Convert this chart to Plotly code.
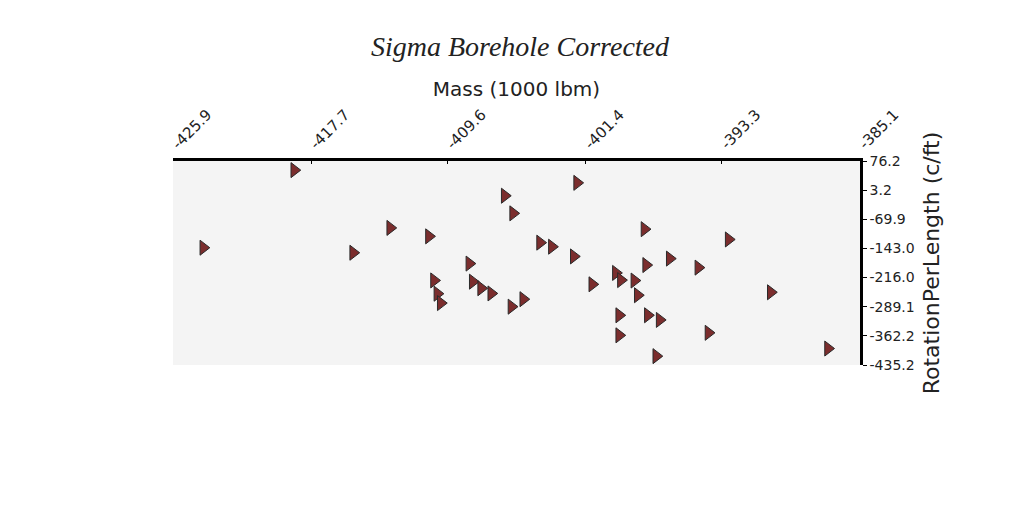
import plotly.graph_objects as go

# valores
mass = [-418.7, -424.1, -415.2, -413.0, -410.7, -410.4, -410.2, -410.0,
        -406.2, -401.9, -405.7, -404.1, -403.4, -402.1, -408.3, -408.1,
        -407.6, -407.0, -405.8, -405.1, -401.0, -399.6, -399.3, -398.5,
        -397.9, -397.8, -398.3, -399.4, -397.7, -397.0, -399.4, -396.4,
        -392.9, -394.7, -390.4, -394.1, -397.2, -387.0]
rotation = [53.3, -141.2, -153.8, -91.5, -112.7, -223.2, -256.5, -280.0,
            -10.9, 21.4, -55.0, -128.5, -138.7, -163.0, -181.0, -226.3,
            -242.8, -255.8, -289.0, -270.2, -232.9, -204.4, -222.4, -223.5,
            -94.7, -184.7, -260.3, -310.6, -310.5, -322.2, -360.8, -168.5,
            -120.5, -191.1, -252.9, -354.5, -413.0, -393.9]

x_ticks = [-425.9, -417.7, -409.6, -401.4, -393.3, -385.1]
y_ticks = [76.2, 3.2, -69.9, -143.0, -216.0, -289.1, -362.2, -435.2]

fig = go.Figure()

fig.add_trace(go.Scatter(
    x=mass,
    y=rotation,
    mode='markers',
    marker=dict(symbol='triangle-right', size=13, color='#7b2d2d',
                line=dict(color='#2a2a2a', width=1)),
    showlegend=False,
))

fig.update_layout(
    width=1024,
    height=512,
    margin=dict(l=165, r=172, t=153, b=155),
    paper_bgcolor='white',
    plot_bgcolor='#f4f4f4',
    title=dict(text='Sigma Borehole Corrected', x=0.5, xanchor='center', y=0.945,
               font=dict(family='Liberation Serif', size=28, style='italic',
                         color='#222')),
    xaxis=dict(
        side='top',
        range=[x_ticks[0], x_ticks[-1]],
        tickvals=x_ticks,
        ticktext=[f'{v:.1f}' for v in x_ticks],
        tickangle=-45,
        ticks='inside', ticklen=3, tickcolor='black',
        showgrid=False, zeroline=False,
        showline=True, linecolor='black', linewidth=2.5,
        tickfont=dict(family='DejaVu Sans', size=15, color='#222'),
        title=dict(text='Mass (1000 lbm)', standoff=4,
                   font=dict(family='DejaVu Sans', size=20, color='#222')),
    ),
    yaxis=dict(
        side='right',
        range=[y_ticks[-1], y_ticks[0]],
        tickvals=y_ticks,
        ticktext=[f'{v:.1f}' for v in y_ticks],
        ticks='outside', ticklen=4, tickcolor='black',
        showgrid=False, zeroline=False,
        showline=True, linecolor='black', linewidth=2.5,
        tickfont=dict(family='DejaVu Sans', size=14, color='#222'),
        title=dict(text='RotationPerLength (c/ft)', standoff=10,
                   font=dict(family='DejaVu Sans', size=22, color='#222')),
    ),
)

fig.write_html("out.html")
